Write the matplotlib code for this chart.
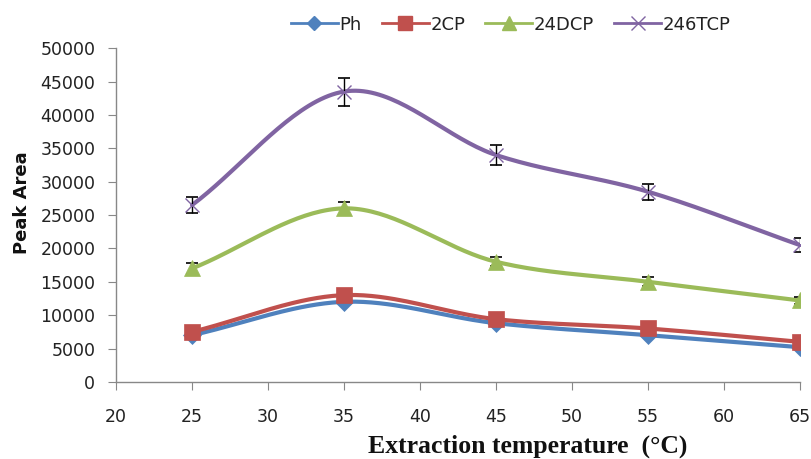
import numpy as np
import matplotlib
matplotlib.use("Agg")
import matplotlib.pyplot as plt
from matplotlib.lines import Line2D

temps = [25, 35, 45, 55, 65]
ph = [7000, 12000, 8800, 7000, 5200]
cp2 = [7500, 13000, 9400, 8000, 6000]
dcp24 = [17000, 26000, 18000, 15000, 12200]
tcp246 = [26500, 43500, 34000, 28500, 20500]
err_ph = [300, 300, 300, 300, 300]
err_cp2 = [300, 300, 300, 300, 300]
err_dcp24 = [800, 1000, 700, 700, 500]
err_tcp246 = [1200, 2100, 1500, 1200, 1000]
names = ["Ph", "2CP", "24DCP", "246TCP"]
colors = ["#4F81BD", "#C0504D", "#9BBB59", "#8064A2"]
markers = ["D", "s", "^", "x"]


def smooth(x, y, n=40):
    # Bezier smoothing similar to Excel's smoothed line
    x = np.asarray(x, float); y = np.asarray(y, float)
    px = np.concatenate([[2 * x[0] - x[1]], x, [2 * x[-1] - x[-2]]])
    py = np.concatenate([[2 * y[0] - y[1]], y, [2 * y[-1] - y[-2]]])
    xs, ys = [], []
    t = np.linspace(0, 1, n)
    for i in range(1, len(px) - 2):
        p0, p1, p2, p3 = [np.array([px[j], py[j]]) for j in (i - 1, i, i + 1, i + 2)]
        b1 = p1 + (p2 - p0) / 6
        b2 = p2 - (p3 - p1) / 6
        pts = ((1 - t) ** 3)[:, None] * p1 + (3 * (1 - t) ** 2 * t)[:, None] * b1 \
            + (3 * (1 - t) * t ** 2)[:, None] * b2 + (t ** 3)[:, None] * p2
        xs.extend(pts[:, 0]); ys.extend(pts[:, 1])
    return np.array(xs), np.array(ys)


fig = plt.figure(figsize=(8.12, 4.59), dpi=100)
ax = fig.add_axes([0.143, 0.168, 0.842, 0.727])

series = [ph, cp2, dcp24, tcp246]
errs = [err_ph, err_cp2, err_dcp24, err_tcp246]
plot_ms = {"D": 9, "s": 12, "^": 12, "x": 10}
leg_ms = {"D": 7, "s": 10, "^": 10, "x": 10}
handles = []
for k, (s, e, c, m, nm) in enumerate(zip(series, errs, colors, markers, names)):
    sx, sy = smooth(temps, s)
    ax.plot(sx, sy, color=c, lw=3, solid_capstyle="round", zorder=2 + k * 0.1)
    ax.errorbar(temps, s, yerr=e, fmt="none", ecolor="black", elinewidth=1,
                capsize=4, capthick=1.2, zorder=2.05 + k * 0.1)
    ax.plot(temps, s, linestyle="none", marker=m, color=c, ms=plot_ms[m],
            mew=1.0 if m == "x" else 0.5, mec=c, zorder=2.08 + k * 0.1)
    handles.append(Line2D([0], [0], color=c, lw=2, marker=m,
                          ms=leg_ms[m], mec=c, mew=1.0))

ax.set_xlim(20, 65)
ax.set_ylim(0, 50000)
ax.set_xticks(range(20, 66, 5))
ax.set_yticks(range(0, 50001, 5000))
for sp in ["top", "right"]:
    ax.spines[sp].set_visible(False)
for sp in ["left", "bottom"]:
    ax.spines[sp].set_color("#888888")
    ax.spines[sp].set_linewidth(1)
ax.tick_params(axis="both", colors="#888888", labelcolor="#222222",
               labelsize=12.5, length=6, direction="out")
ax.tick_params(axis="x", pad=13)
ax.tick_params(axis="y", pad=9)

fig.text(0.65, 0.013, "Extraction temperature  (°C)", family="Liberation Serif",
         fontweight="bold", fontsize=18.5, color="#111111", ha="center",
         va="baseline")
fig.text(0.027, 0.558, "Peak Area", fontweight="bold", fontsize=13,
         color="#111111", rotation=90, ha="center", va="center")

fig.legend(handles, names, loc="center", bbox_to_anchor=(0.629, 0.946), ncol=4,
           frameon=False, fontsize=13, handlelength=2.6, columnspacing=1.1,
           handletextpad=0.1, labelcolor="#222222")

fig.savefig("out.png", dpi=100)
